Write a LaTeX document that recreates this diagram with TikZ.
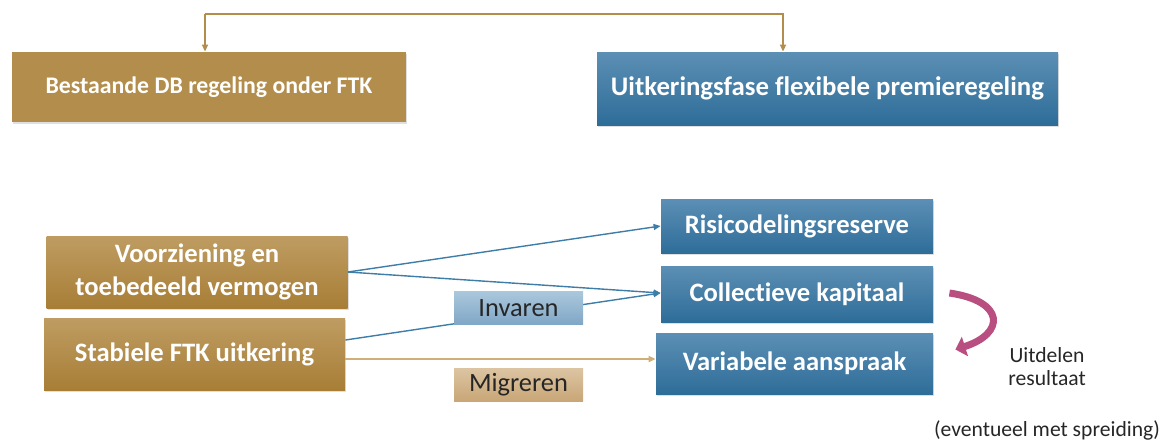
\documentclass[tikz,border=0pt]{standalone}
\usepackage{fontspec}
\setmainfont{Carlito}[Ligatures=NoCommon]
\usepackage{tikz}
\usetikzlibrary{arrows.meta,positioning,shadows,calc}
\definecolor{FTKgold}{HTML}{B38D4C}
\definecolor{FTKgoldtop}{HTML}{BE9C62}
\definecolor{FTKgoldbot}{HTML}{A87E36}
\definecolor{FTKblue}{HTML}{3D7DA8}
\definecolor{FTKbluetop}{HTML}{5C8FB4}
\definecolor{FTKbluebot}{HTML}{2E6D99}
\definecolor{FTKlichttop}{HTML}{AAC7DC}
\definecolor{FTKlichtbot}{HTML}{80A6C6}
\definecolor{FTKtantop}{HTML}{DCC4A2}
\definecolor{FTKtanbot}{HTML}{C8A676}
\definecolor{FTKtanline}{HTML}{CFAE78}
\definecolor{FTKroze}{HTML}{B84F80}
\tikzset{
  ftk/box/.style={align=center, inner sep=2pt, text=white,
    font=\fontsize{13.3}{16.5}\selectfont\bfseries,
    drop shadow={opacity=0.25, shadow xshift=0.6pt, shadow yshift=-0.8pt}},
  ftk/oud/.style={ftk/box, top color=FTKgoldtop, bottom color=FTKgoldbot},
  ftk/nieuw/.style={ftk/box, top color=FTKbluetop, bottom color=FTKbluebot},
  ftk/tag/.style={align=center, inner sep=1pt, text=black!85,
    font=\fontsize{13.2}{15}\selectfont, minimum width=64.5pt, minimum height=16.5pt},
  ftk/note/.style={align=center, inner sep=0pt, text=black!85, font=\fontsize{10.8}{11.5}\selectfont},
  ftk/line/.style={FTKblue, line width=0.7pt},
  ftk/arr/.style={-{Triangle[length=3.5pt,width=3pt]}},
  ftk/goud/.style={FTKgold, line width=0.7pt}
}
\begin{document}
\begin{tikzpicture}[x=0.5pt,y=-0.5pt]
  \useasboundingbox (0,0) rectangle (1160,441);

  % bovenste rij
  \node[ftk/box, fill=FTKgold, minimum width=197pt, minimum height=35pt,
    font=\fontsize{11.9}{14}\selectfont\bfseries] (oud) at (209,87) {Bestaande DB regeling onder FTK};
  \node[ftk/nieuw, minimum width=230.5pt, minimum height=36.5pt,
    font=\fontsize{13.4}{15}\selectfont\bfseries] (nieuw) at (827.5,88.5) {Uitkeringsfase flexibele premieregeling};

  \coordinate (topL) at (205,14);
  \coordinate (topR) at (783,14);
  \draw[ftk/goud, ftk/arr] (topL) -- (oud.north -| topL);
  \draw[ftk/goud, ftk/arr] (topL) -- (topR) -- (nieuw.north -| topR);

  % onderste deel
  \node[ftk/oud, minimum width=150.5pt, minimum height=36pt] (voorz) at (197,272) {Voorziening en\\toebedeeld vermogen};
  \node[ftk/oud, minimum width=150.5pt, minimum height=36pt] (stab) at (194.5,354) {Stabiele FTK uitkering};

  \node[ftk/nieuw, minimum width=136pt, minimum height=27pt] (risico) at (797,226) {Risicodelingsreserve};
  \node[ftk/nieuw, minimum width=136pt, minimum height=28pt] (coll) at (797,294) {Collectieve kapitaal};
  \node[ftk/nieuw, minimum width=138.5pt, minimum height=30.5pt] (var) at (794.5,363.5) {Variabele aanspraak};

  \draw[ftk/line, ftk/arr] (voorz.east) -- (risico.west);
  \draw[ftk/line, ftk/arr] (voorz.east) -- ([yshift=0.5pt]coll.west);
  \draw[ftk/line, ftk/arr] ([yshift=7pt]stab.east) -- ([yshift=0.5pt]coll.west);
  \draw[FTKtanline, line width=0.9pt, ftk/arr] ([yshift=-2.5pt]stab.east) -- ([yshift=-2.5pt]stab.east -| var.west);

  \node[ftk/tag, top color=FTKlichttop, bottom color=FTKlichtbot] (invaren) at (518.5,308) {Invaren};
  \node[ftk/tag, top color=FTKtantop, bottom color=FTKtanbot] (migreren) at (518.5,385) {Migreren};

  % uitdelen
  \draw[FTKroze, line width=3.5pt, -{Triangle[length=5pt,width=10pt]}]
    ([xshift=8pt,yshift=0.5pt]coll.east) .. controls +(28pt,-4pt) and +(25pt,8pt) .. ([xshift=11pt,yshift=7pt]var.east);

  \node[ftk/note] (uitdelen) at (1047,367) {Uitdelen\\resultaat};
  \node[ftk/note] (spreiding) at (1047,430) {(eventueel met spreiding)};
\end{tikzpicture}
\end{document}
